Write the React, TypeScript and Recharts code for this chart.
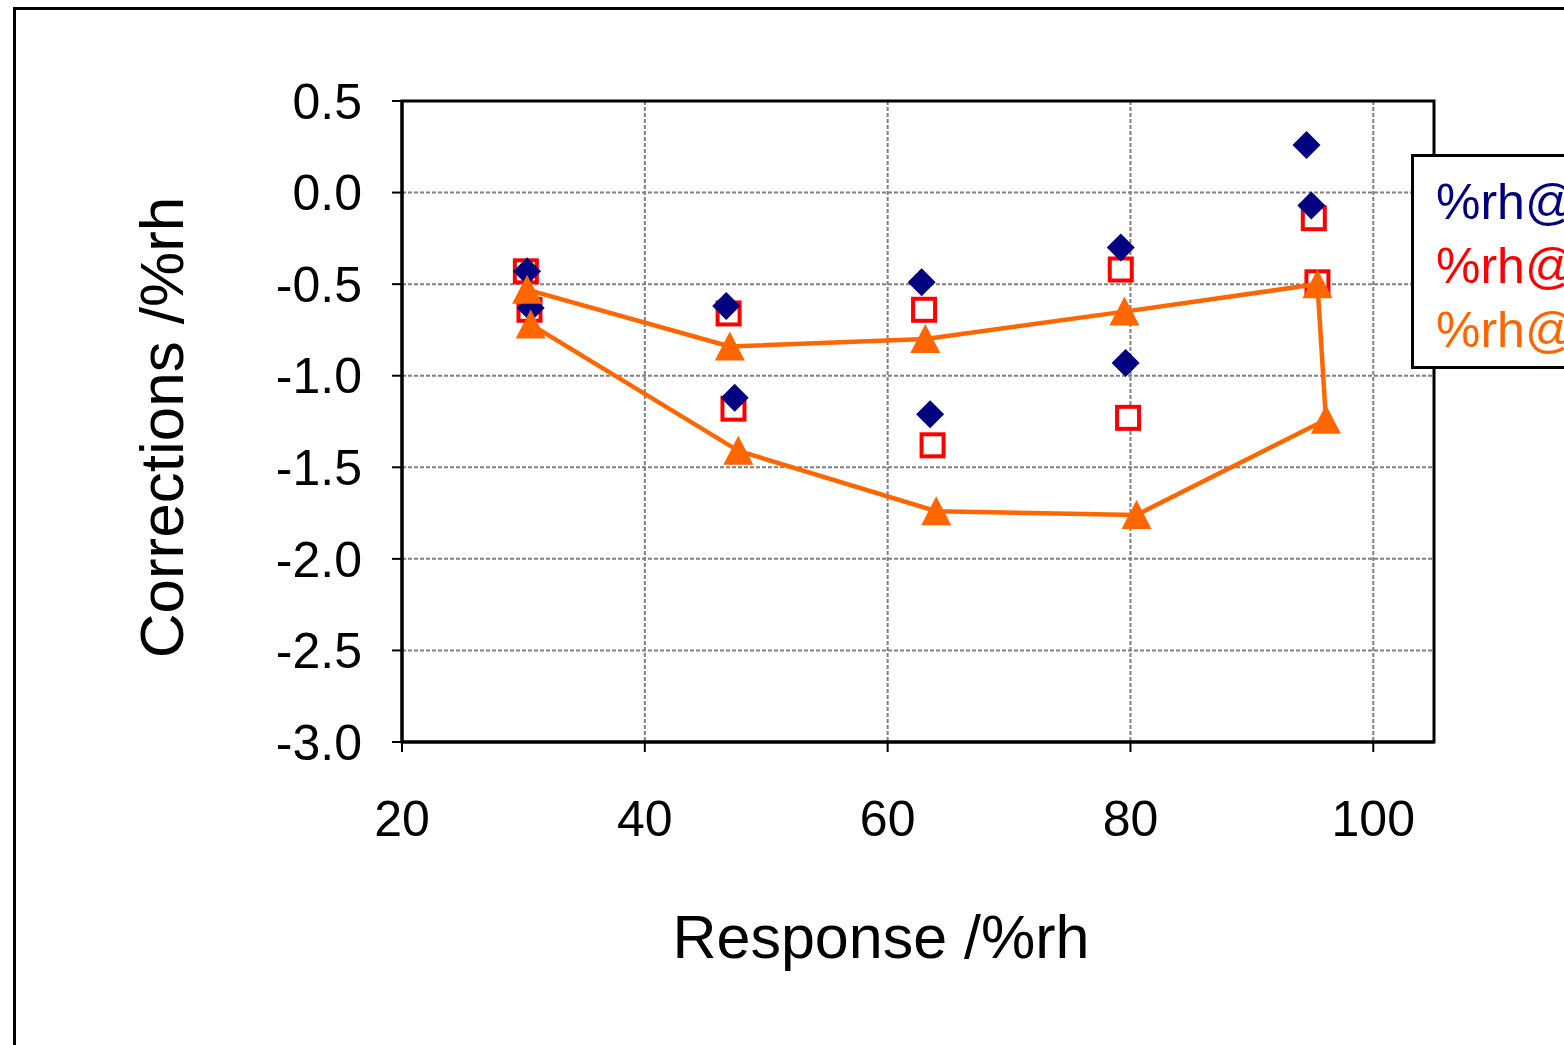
import React from 'react';
import { ScatterChart, Scatter, XAxis, YAxis, CartesianGrid, ReferenceArea } from 'recharts';

const NAVY = '#000080';
const RED = '#FF0000';
const ORANGE = '#FF6600';
const FONT = '"Liberation Sans", Arial, sans-serif';

const xTicks = [20, 40, 60, 80, 100];
const yTicks = [-3, -2.5, -2, -1.5, -1, -0.5, 0, 0.5];
const seriesNames = ['%rh@', '%rh@', '%rh@'];

// navy diamonds
const navyX = [30.3, 30.6, 46.7, 47.4, 62.8, 63.5, 79.2, 79.6, 94.5, 94.9];
const navyY = [-0.43, -0.63, -0.62, -1.12, -0.49, -1.21, -0.3, -0.93, 0.26, -0.07];

// red open squares
const redX = [30.2, 30.5, 46.9, 47.3, 63.0, 63.7, 79.2, 79.8, 95.1, 95.4];
const redY = [-0.43, -0.64, -0.66, -1.18, -0.64, -1.38, -0.42, -1.23, -0.14, -0.49];

// orange triangles, in the order the line joins them
const orangeX = [30.6, 47.7, 64.0, 80.5, 96.1, 95.4, 79.5, 63.1, 47.0, 30.3];
const orangeY = [-0.72, -1.41, -1.74, -1.76, -1.24, -0.5, -0.65, -0.8, -0.84, -0.53];

const toPoints = (xs: number[], ys: number[]) => xs.map((x, i) => ({ x, y: ys[i] }));

const Diamond = (props: any) => {
  const { cx, cy } = props;
  return (
    <polygon
      points={`${cx},${cy - 14} ${cx + 14},${cy} ${cx},${cy + 14} ${cx - 14},${cy}`}
      fill={NAVY}
    />
  );
};

const OpenSquare = (props: any) => {
  const { cx, cy } = props;
  return <rect x={cx - 11} y={cy - 11} width={22} height={22} fill="#fff" stroke={RED} strokeWidth={4} />;
};

const Triangle = (props: any) => {
  const { cx, cy } = props;
  return (
    <polygon
      points={`${cx},${cy - 15} ${cx + 15},${cy + 14} ${cx - 15},${cy + 14}`}
      fill={ORANGE}
    />
  );
};

const legendColors = [NAVY, RED, ORANGE];

export default function App() {
  return (
    <div style={{ position: 'absolute', left: 0, top: 0, width: 1564, height: 1045, overflow: 'hidden', background: '#fff' }}>
      {/* outer chart-area frame */}
      <div style={{ position: 'absolute', left: 13, top: 7, width: 2000, height: 2000, border: '3px solid #000' }} />
      <div style={{ position: 'absolute', left: 0, top: 0 }}>
        <ScatterChart width={1564} height={1045} margin={{ top: 101, right: 130, left: 0, bottom: 0 }}>
          <CartesianGrid stroke="#808080" strokeWidth={2} strokeDasharray="4 2" />
          <XAxis
            type="number"
            dataKey="x"
            domain={[20, 105]}
            ticks={xTicks}
            allowDataOverflow
            height={303}
            axisLine={{ stroke: '#000', strokeWidth: 3 }}
            tickLine={{ stroke: '#000', strokeWidth: 2 }}
            tickSize={10}
            tickMargin={48}
            tick={{ fill: '#000', fontSize: 50, fontFamily: FONT }}
            label={{ value: 'Response /%rh', position: 'insideBottom', offset: 87, dx: -37, fill: '#000', fontSize: 61, fontFamily: FONT }}
          />
          <YAxis
            type="number"
            dataKey="y"
            domain={[-3, 0.5]}
            ticks={yTicks}
            allowDataOverflow
            width={402}
            axisLine={{ stroke: '#000', strokeWidth: 3 }}
            tickLine={{ stroke: '#000', strokeWidth: 2 }}
            tickSize={10}
            tickMargin={30}
            tickFormatter={(v: number) => v.toFixed(1)}
            tick={{ fill: '#000', fontSize: 50, fontFamily: FONT }}
            label={{ value: 'Corrections /%rh', angle: -90, position: 'center', dx: -40, dy: 6, fill: '#000', fontSize: 62, fontFamily: FONT }}
          />
          <ReferenceArea x1={20} x2={105} y1={-3} y2={0.5} fill="none" stroke="#000" strokeWidth={3} />
          <Scatter name={seriesNames[1]} data={toPoints(redX, redY)} shape={OpenSquare} isAnimationActive={false} />
          <Scatter name={seriesNames[0]} data={toPoints(navyX, navyY)} shape={Diamond} isAnimationActive={false} />
          <Scatter
            name={seriesNames[2]}
            data={toPoints(orangeX, orangeY)}
            shape={Triangle}
            line={{ stroke: ORANGE, strokeWidth: 4.5 }}
            lineType="joint"
            isAnimationActive={false}
          />
        </ScatterChart>
      </div>
      {/* legend box, cut off by the right edge */}
      <div
        style={{
          position: 'absolute', left: 1411, top: 154, width: 400, height: 215, boxSizing: 'border-box',
          border: '3px solid #000', background: '#fff', paddingTop: 13, paddingLeft: 22,
          fontFamily: FONT, fontSize: 50, lineHeight: '64px', whiteSpace: 'nowrap',
        }}
      >
        {seriesNames.map((n, i) => (
          <div key={i} style={{ color: legendColors[i] }}>{n}</div>
        ))}
      </div>
    </div>
  );
}
